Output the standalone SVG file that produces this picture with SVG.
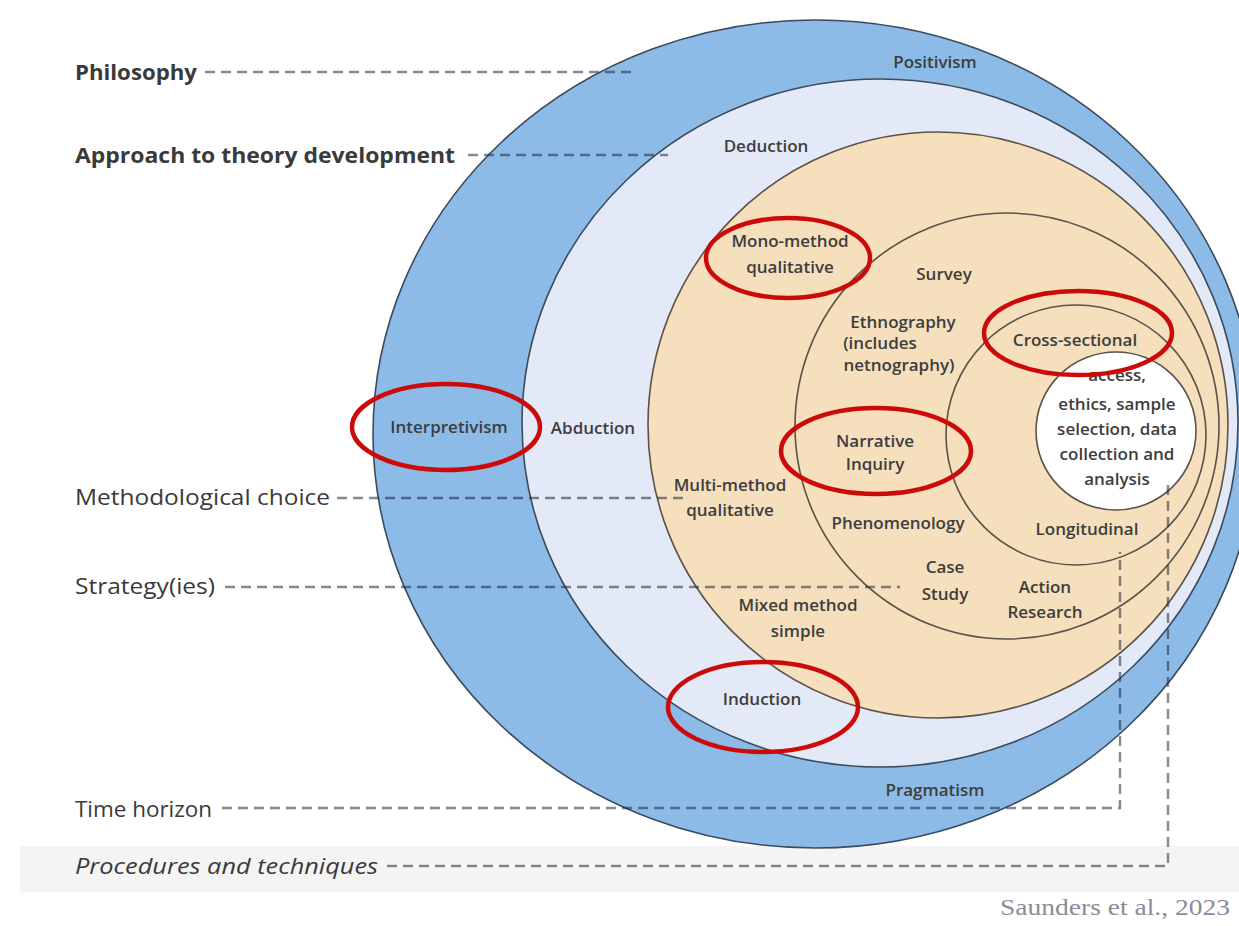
<svg xmlns="http://www.w3.org/2000/svg" width="1239" height="926" viewBox="0 0 1239 926">
  <style>
    .ring { stroke: #3c4a5c; stroke-width: 1.6; }
    .tan { fill: #f5dfbd; stroke: #5b5249; stroke-width: 1.6; }
    .inner { fill: none; stroke: #5b5249; stroke-width: 1.6; }
    .core { fill: #ffffff; stroke: #5b5249; stroke-width: 1.6; }
    .lbl { font-family: "Open Sans", "Liberation Sans", sans-serif; font-size: 22px; fill: #3a3a3a; }
    .bold { font-weight: 700; }
    .txt { font-family: "Open Sans", "Liberation Sans", sans-serif; font-size: 17px; font-weight: 600; fill: #3d3d3d; text-anchor: middle; }
    .dash { fill: none; stroke: #1e2838; stroke-opacity: 0.55; stroke-width: 2.4; stroke-dasharray: 10 6; }
    .mark { fill: none; stroke: #cc0a0a; stroke-width: 4.5; }
  </style>

  <rect width="1239" height="926" fill="#ffffff"/>
  <rect x="20" y="846" width="1219" height="46" fill="#f4f4f4"/>

  <!-- onion layers, outermost first -->
  <g id="philosophy-layer">
    <ellipse class="ring" cx="815" cy="434" rx="442" ry="414" fill="#8dbbe8"/>
    <text class="txt" x="935" y="68">Positivism</text>
    <text class="txt" x="449" y="433">Interpretivism</text>
    <text class="txt" x="935" y="796">Pragmatism</text>
  </g>
  <g id="approach-layer">
    <ellipse class="ring" cx="880" cy="423" rx="358" ry="344" fill="#e4e9f7"/>
    <text class="txt" x="766" y="152">Deduction</text>
    <text class="txt" x="593" y="434">Abduction</text>
    <text class="txt" x="762" y="705">Induction</text>
  </g>
  <g id="choice-layer">
    <ellipse class="tan" cx="938" cy="425" rx="290" ry="293"/>
    <text class="txt" x="790" y="247">Mono-method</text>
    <text class="txt" x="790" y="273">qualitative</text>
    <text class="txt" x="730" y="491">Multi-method</text>
    <text class="txt" x="730" y="516">qualitative</text>
    <text class="txt" x="798" y="611">Mixed method</text>
    <text class="txt" x="798" y="637">simple</text>
  </g>
  <g id="strategy-layer">
    <ellipse class="inner" cx="1007" cy="426" rx="212" ry="213"/>
    <text class="txt" x="944" y="280">Survey</text>
    <text class="txt" x="903" y="328">Ethnography</text>
    <text class="txt" x="880" y="349">(includes</text>
    <text class="txt" x="899" y="371">netnography)</text>
    <text class="txt" x="875" y="447">Narrative</text>
    <text class="txt" x="875" y="470">Inquiry</text>
    <text class="txt" x="898" y="529">Phenomenology</text>
    <text class="txt" x="945" y="573">Case</text>
    <text class="txt" x="945" y="600">Study</text>
    <text class="txt" x="1045" y="593">Action</text>
    <text class="txt" x="1045" y="618">Research</text>
  </g>
  <g id="time-layer">
    <ellipse class="inner" cx="1076" cy="435" rx="130" ry="130"/>
    <text class="txt" x="1075" y="346">Cross-sectional</text>
    <text class="txt" x="1087" y="535">Longitudinal</text>
  </g>
  <g id="core">
    <ellipse class="core" cx="1116" cy="431" rx="80" ry="79"/>
    <text class="txt" x="1117" y="381">access,</text>
    <text class="txt" x="1117" y="410">ethics, sample</text>
    <text class="txt" x="1117" y="435">selection, data</text>
    <text class="txt" x="1117" y="460">collection and</text>
    <text class="txt" x="1117" y="485">analysis</text>
  </g>

  <!-- leader lines from the layer names -->
  <g id="connectors">
    <path class="dash" d="M205 72 H635"/>
    <path class="dash" d="M468 155 H668"/>
    <path class="dash" d="M337 498 H683"/>
    <path class="dash" d="M225 587 H900"/>
    <path class="dash" d="M222 808 H1120 V552"/>
    <path class="dash" d="M387 866 H1168 V480"/>
  </g>

  <g id="layer-names">
    <text class="lbl bold" x="75" y="80" textLength="122" lengthAdjust="spacingAndGlyphs">Philosophy</text>
    <text class="lbl bold" x="75" y="163" textLength="380" lengthAdjust="spacingAndGlyphs">Approach to theory development</text>
    <text class="lbl" x="75" y="505" textLength="255" lengthAdjust="spacingAndGlyphs">Methodological choice</text>
    <text class="lbl" x="75" y="594" textLength="140" lengthAdjust="spacingAndGlyphs">Strategy(ies)</text>
    <text class="lbl" x="75" y="817" textLength="137" lengthAdjust="spacingAndGlyphs">Time horizon</text>
    <text class="lbl" x="75" y="874" font-style="italic" textLength="303" lengthAdjust="spacingAndGlyphs">Procedures and techniques</text>
  </g>

  <!-- highlighted choices -->
  <g id="highlights">
    <ellipse class="mark" cx="788" cy="258" rx="82" ry="40"/>
    <ellipse class="mark" cx="446" cy="427" rx="94" ry="43"/>
    <ellipse class="mark" cx="1078" cy="333" rx="94" ry="42"/>
    <ellipse class="mark" cx="876" cy="451" rx="95" ry="43"/>
    <ellipse class="mark" cx="763" cy="707" rx="95" ry="45"/>
  </g>

  <text x="1000" y="915" textLength="230" lengthAdjust="spacingAndGlyphs" font-family="Liberation Serif, DejaVu Serif, serif" font-size="24" fill="#8a8d99">Saunders et al., 2023</text>
</svg>
